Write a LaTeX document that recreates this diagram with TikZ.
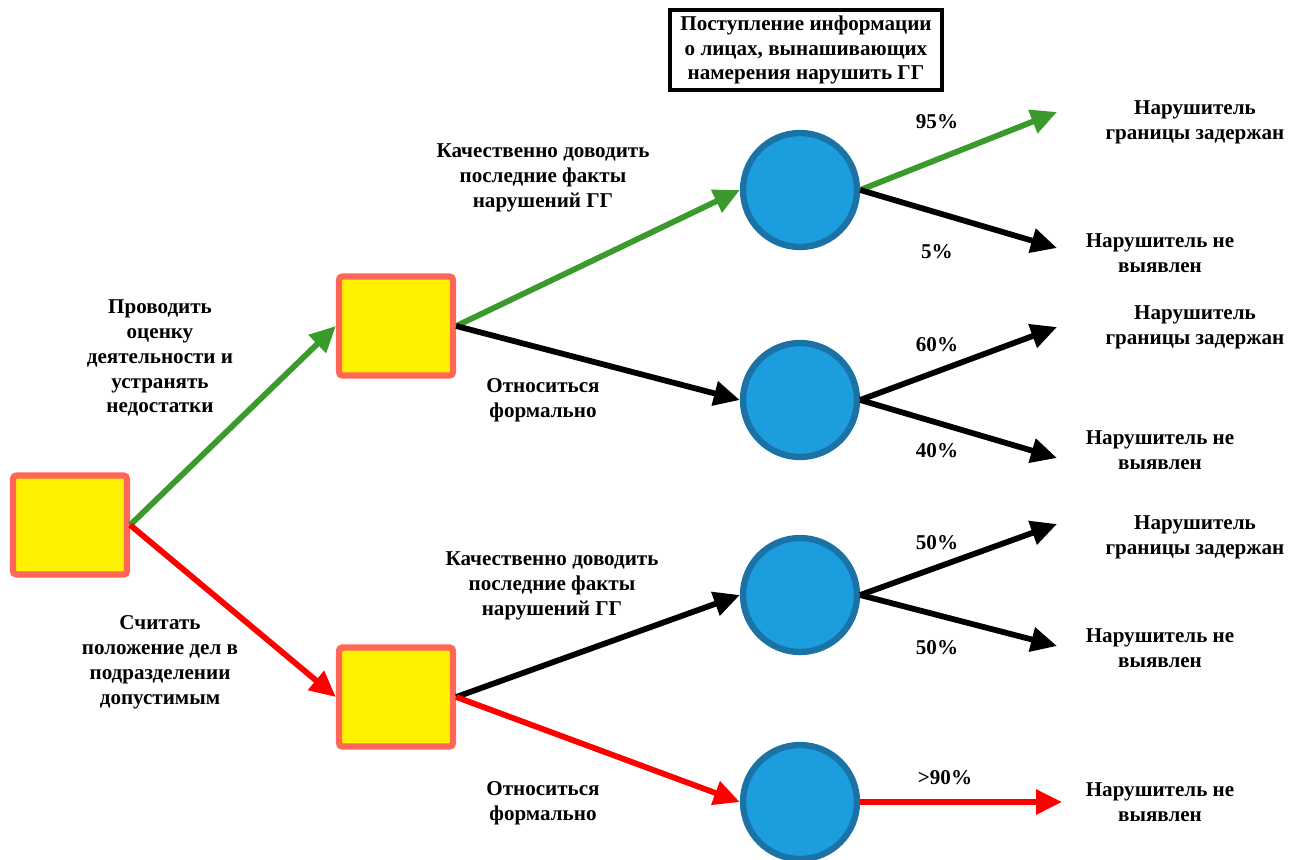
\documentclass[tikz,border=0pt]{standalone}
\usepackage{fontspec}
\setmainfont{Liberation Serif}
\usetikzlibrary{arrows.meta}

\definecolor{boxline}{HTML}{FF6655}
\definecolor{chancefill}{HTML}{1B9DDE}
\definecolor{chanceline}{HTML}{1A72A6}
\definecolor{goodgreen}{HTML}{3A9A2C}

\begin{document}
\begin{tikzpicture}[x=0.02cm,y=-0.02cm,line width=3.3pt,-{Triangle[length=0.52cm,width=0.48cm]}]
  \tikzstyle{decision}=[rectangle,rounded corners=2pt,draw=boxline,line width=3.6pt,fill=yellow,minimum width=2.28cm,minimum height=1.98cm]
  \tikzstyle{chance}=[circle,draw=chanceline,line width=3.6pt,fill=chancefill,minimum size=2.28cm]
  \tikzstyle{lbl}=[align=center,font=\bfseries\fontsize{12}{14.2}\selectfont]
  \useasboundingbox (0,0) rectangle (1290,859);
  % decision squares
  \node[decision] (D0) at (70,525)  {};
  \node[decision] (D1) at (396,326) {};
  \node[decision] (D2) at (396,697) {};
  % chance circles
  \node[chance] (C1) at (800,190) {};
  \node[chance] (C2) at (800,400) {};
  \node[chance] (C3) at (800,595) {};
  \node[chance] (C4) at (800,802) {};
  % arrow ends
  \coordinate (E1) at (1057,112);
  \coordinate (E2) at (1057,248);
  \coordinate (E3) at (1057,327);
  \coordinate (E4) at (1057,458);
  \coordinate (E5) at (1057,524);
  \coordinate (E6) at (1057,646);
  \coordinate (E7) at (1062,802);
  % branches
  \draw[goodgreen] (D0.east) -- (D1.west);
  \draw[red] (D0.east) -- (D2.west);
  \draw[goodgreen] (D1.east) -- (C1.west);
  \draw (D1.east) -- (C2.west);
  \draw (D2.east) -- (C3.west);
  \draw[red] (D2.east) -- (C4.west);
  \draw[goodgreen] (C1.east) -- (E1);
  \draw (C1.east) -- (E2);
  \draw (C2.east) -- (E3);
  \draw (C2.east) -- (E4);
  \draw (C3.east) -- (E5);
  \draw (C3.east) -- (E6);
  \draw[red] (C4.east) -- (E7);
  % texts
  \node[lbl,draw,line width=2pt,inner sep=3pt,minimum width=5.45cm] (info) at (806,50)
    {Поступление информации\\о лицах, вынашивающих\\намерения нарушить ГГ};
  \node[lbl] (act1) at (160,358) {Проводить\\оценку\\деятельности и\\устранять\\недостатки};
  \node[lbl] (pass1) at (160,662) {Считать\\положение дел в\\подразделении\\допустимым};
  \node[lbl] (good1) at (543,178) {Качественно доводить\\последние факты\\нарушений ГГ};
  \node[lbl] (form1) at (543,400) {Относиться\\формально};
  \node[lbl] (good2) at (552,586) {Качественно доводить\\последние факты\\нарушений ГГ};
  \node[lbl] (form2) at (543,803) {Относиться\\формально};
  \node[lbl] (p1) at (937,122) {95\%};
  \node[lbl] (p2) at (937,252) {5\%};
  \node[lbl] (p3) at (937,345) {60\%};
  \node[lbl] (p4) at (937,451) {40\%};
  \node[lbl] (p5) at (937,543) {50\%};
  \node[lbl] (p6) at (937,648) {50\%};
  \node[lbl] (p7) at (945,778) {>90\%};
  \node[lbl] (r1) at (1195,122) {Нарушитель\\границы задержан};
  \node[lbl] (r2) at (1160,253) {Нарушитель не\\выявлен};
  \node[lbl] (r3) at (1195,327) {Нарушитель\\границы задержан};
  \node[lbl] (r4) at (1160,450) {Нарушитель не\\выявлен};
  \node[lbl] (r5) at (1195,537) {Нарушитель\\границы задержан};
  \node[lbl] (r6) at (1160,648) {Нарушитель не\\выявлен};
  \node[lbl] (r7) at (1160,802) {Нарушитель не\\выявлен};
\end{tikzpicture}
\end{document}
